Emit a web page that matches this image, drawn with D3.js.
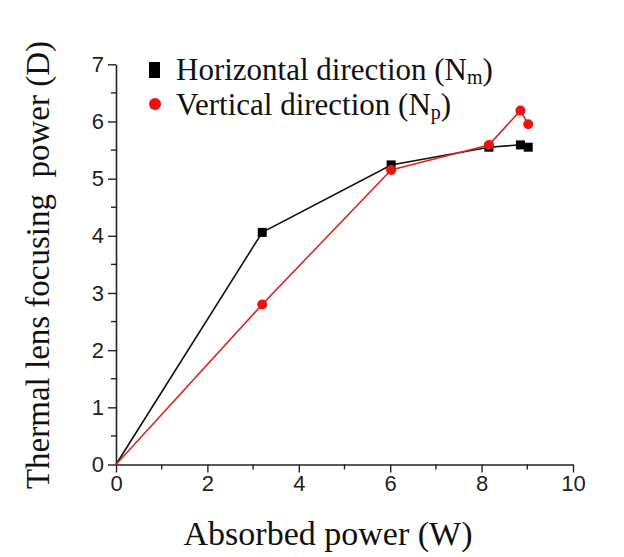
<!DOCTYPE html>
<html><head><meta charset="utf-8">
<script src="https://cdn.jsdelivr.net/npm/d3@7"></script>
<style>body{margin:0;background:#fff}</style>
</head><body><svg id="c" width="624" height="557"></svg>
<script>
const xVals = [0, 3.2, 6.02, 8.16, 8.85, 9.02];
const horizontal = [0, 4.06, 5.24, 5.55, 5.59, 5.55];
const vertical = [0, 2.80, 5.15, 5.59, 6.19, 5.95];
const xTicks = [0, 2, 4, 6, 8, 10];
const yTicks = [0, 1, 2, 3, 4, 5, 6, 7];
const seriesNames = ["Horizontal direction (N", "Vertical direction (N"];
const seriesSubs = ["m", "p"];

const svg = d3.select("#c");
const x = d3.scaleLinear().domain([0, 10]).range([116, 573]);
const y = d3.scaleLinear().domain([0, 7]).range([464.5, 64.3]);
const serif = "'Liberation Serif','Times New Roman',serif";
const sans = "'Liberation Sans',Arial,sans-serif";

const xMinor = d3.range(1, 10, 2);
const yMinor = d3.range(0.5, 7, 1);
const gx = svg.append("g").attr("transform", `translate(0,${y(0)})`);
gx.call(d3.axisBottom(x).tickValues(xTicks).tickFormat(d3.format("d")).tickSize(8).tickPadding(3).tickSizeOuter(0));
gx.selectAll(".tick text").attr("font-family", sans).attr("font-size", 22).attr("fill", "#222");
gx.select(".domain").attr("stroke", "#222").attr("stroke-width", 1.6);
gx.selectAll(".tick line").attr("stroke", "#222").attr("stroke-width", 1.4);
gx.selectAll(".minor").data(xMinor).enter().append("line")
  .attr("x1", d => x(d)).attr("x2", d => x(d)).attr("y1", 0).attr("y2", 5)
  .attr("stroke", "#222").attr("stroke-width", 1.4);

const gy = svg.append("g").attr("transform", `translate(${x(0)},0)`);
gy.call(d3.axisLeft(y).tickValues(yTicks).tickFormat(d3.format("d")).tickSize(8).tickPadding(4).tickSizeOuter(0));
gy.selectAll(".tick text").attr("font-family", sans).attr("font-size", 22).attr("fill", "#222");
gy.select(".domain").attr("stroke", "#222").attr("stroke-width", 1.6);
gy.selectAll(".tick line").attr("stroke", "#222").attr("stroke-width", 1.4);
gy.selectAll(".minor").data(yMinor).enter().append("line")
  .attr("x1", 0).attr("x2", -5).attr("y1", d => y(d)).attr("y2", d => y(d))
  .attr("stroke", "#222").attr("stroke-width", 1.4);

const line = d3.line().x((d, i) => x(xVals[i])).y(d => y(d));
svg.append("path").datum(horizontal).attr("d", line).attr("fill", "none")
  .attr("stroke", "#111").attr("stroke-width", 1.6);
svg.append("path").datum(vertical).attr("d", line).attr("fill", "none")
  .attr("stroke", "#d42a2a").attr("stroke-width", 1.6);

svg.selectAll(".sq").data(horizontal.slice(1)).enter().append("rect")
  .attr("x", (d, i) => x(xVals[i + 1]) - 4.5).attr("y", d => y(d) - 4.5)
  .attr("width", 9).attr("height", 9).attr("fill", "#000");
svg.selectAll(".ci").data(vertical.slice(1)).enter().append("circle")
  .attr("cx", (d, i) => x(xVals[i + 1])).attr("cy", d => y(d)).attr("r", 5)
  .attr("fill", "#ee1111");

const leg = svg.append("g");
leg.append("rect").attr("x", 149).attr("y", 62).attr("width", 11).attr("height", 16).attr("fill", "#000");
leg.append("circle").attr("cx", 155).attr("cy", 104).attr("r", 6).attr("fill", "#ee1111");
[0, 1].forEach(i => {
  const t = leg.append("text").attr("x", 176).attr("y", [80, 115][i])
    .attr("font-family", serif).attr("font-size", 31).attr("fill", "#111");
  t.append("tspan").text(seriesNames[i]);
  t.append("tspan").text(seriesSubs[i]).attr("font-size", 20).attr("dy", 4);
  t.append("tspan").text(")").attr("dy", -4);
});

svg.append("text").attr("x", 328).attr("y", 545).attr("text-anchor", "middle")
  .attr("font-family", serif).attr("font-size", 34).attr("fill", "#111")
  .text("Absorbed power (W)");
svg.append("text").attr("transform", "translate(49,265) rotate(-90)").attr("text-anchor", "middle")
  .attr("font-family", serif).attr("font-size", 33).attr("fill", "#111")
  .style("white-space", "pre")
  .text("Thermal lens focusing  power (D)");
</script></body></html>
